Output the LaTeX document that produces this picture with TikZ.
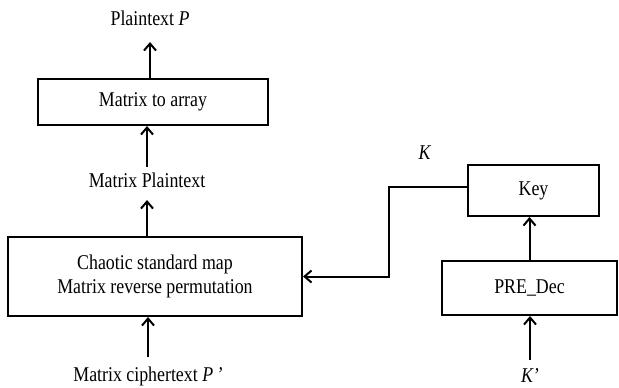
\documentclass[tikz,border=0pt]{standalone}
\usepackage{fontspec}
\setmainfont{Liberation Serif}[FakeStretch=0.85]
\usetikzlibrary{positioning,arrows.meta}

\begin{document}
\begin{tikzpicture}[
    x=0.5pt, y=-0.5pt,
    font=\fontsize{10.5}{12}\selectfont,
    box/.style={draw, line width=1pt, align=center, inner sep=0pt},
    lbl/.style={inner sep=1pt},
    every path/.style={line width=1pt},
    >={Straight Barb[length=3.5pt,width=6pt]}
  ]
    \useasboundingbox (0,0) rectangle (619,387);

    \node[lbl] (plain) at (150,18) {Plaintext \textit{P}};
    \node[box, minimum width=115pt, minimum height=23pt] (m2a) at (153,102) {Matrix to array};
    \node[lbl] (mplain) at (147,180) {Matrix Plaintext};
    \node[box, minimum width=147pt, minimum height=39.5pt] (chaos) at (155,276.5) {Chaotic standard map\\Matrix reverse permutation};
    \node[lbl] (mcipher) at (148,376) {Matrix ciphertext \textit{P\,'}};

    \node[box, minimum width=65.5pt, minimum height=25.5pt] (key) at (533.5,190.5) {Key};
    \node[box, minimum width=87.5pt, minimum height=27pt] (pre) at (529.5,288) {PRE\_Dec};
    \node[lbl] (kprime) at (530,376) {\textit{K'}};
    \node[lbl] (klbl) at (425,153) {\textit{K}};
    \coordinate (kbend) at (389,230);

    \draw[->] (m2a.north -| plain) -- ++(0,-36);
    \draw[->] (mplain.north) ++(0,-3) -- (mplain |- m2a.south);
    \draw[->] (chaos.north -| mplain) -- ++(0,-36);
    \draw[->] (mcipher.north) ++(0,-6) -- (mcipher |- chaos.south);
    \draw[->] ([yshift=2pt]key.west) -- ([yshift=2pt]key.west -| kbend) |- (chaos.east);
    \draw[->] (pre.north) -- (pre.north |- key.south);
    \draw[->] (kprime.north) ++(0,-6) -- (kprime |- pre.south);
  \end{tikzpicture}
\end{document}
